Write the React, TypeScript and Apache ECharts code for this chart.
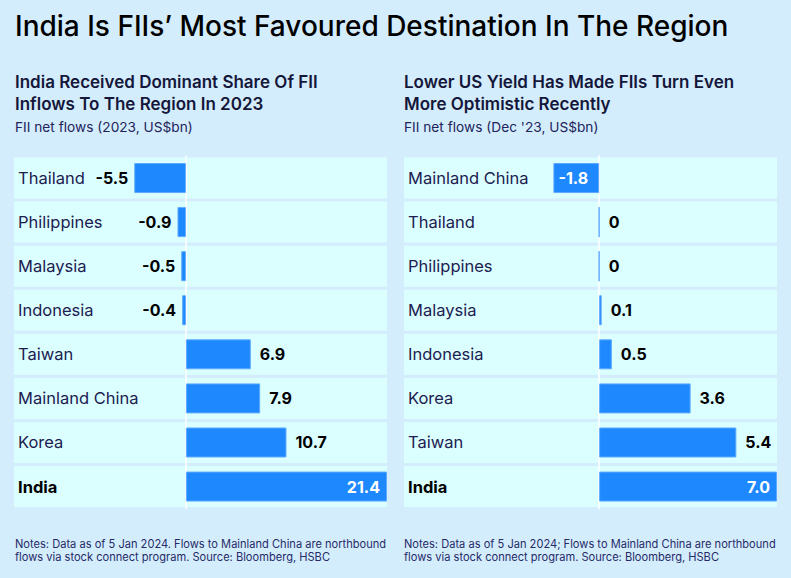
import React, { useEffect, useRef } from "react";
import * as echarts from "echarts";

const leftCategories = ["Thailand", "Philippines", "Malaysia", "Indonesia", "Taiwan", "Mainland China", "Korea", "India"];
const leftValues = [-5.5, -0.9, -0.5, -0.4, 6.9, 7.9, 10.7, 21.4];
const rightCategories = ["Mainland China", "Thailand", "Philippines", "Malaysia", "Indonesia", "Korea", "Taiwan", "India"];
const rightValues = [-1.8, 0, 0, 0.1, 0.5, 3.6, 5.4, 7.0];
const leftRange = [-18.3, 21.4];
const rightRange = [-7.68, 7.0];

const FONT = "Inter, 'Noto Sans', sans-serif";
const BAR = "#1e88ff";
const BAND = "#dbffff";
const BG = "#d4edfd";
const NAVY = "#1d2050";

function fmt(v: number) {
  return v === 0 ? "0" : v.toFixed(1);
}

function barData(cats: string[], vals: number[], insideNegative: boolean) {
  const maxV = Math.max(...vals);
  return vals.map((v, i) => {
    let label: any = { position: v < 0 ? "left" : "right", distance: v < 0 ? 6 : 9 };
    if (v === maxV) label = { position: "insideRight", distance: 7, color: "#ffffff" };
    else if (v < 0 && insideNegative) label = { position: "insideLeft", distance: 5, color: "#ffffff" };
    return { value: v, name: cats[i], label };
  });
}

function bandSeries(xi: number, yi: number, cats: string[]) {
  return {
    type: "custom",
    xAxisIndex: xi,
    yAxisIndex: yi,
    z: 1,
    silent: true,
    data: cats.map((_, i) => [0, i]),
    encode: { x: 0, y: 1 },
    renderItem: (params: any, api: any) => {
      const pt = api.coord([0, api.value(1)]);
      const h = api.size([0, 1])[1] * 0.93;
      const cs = params.coordSys;
      return {
        type: "rect",
        shape: { x: cs.x, y: pt[1] - h / 2, width: cs.width, height: h },
        style: { fill: BAND },
      };
    },
  };
}

function labelAxis(gi: number, cats: string[]) {
  return {
    gridIndex: gi,
    type: "category",
    data: cats,
    inverse: true,
    axisLine: { show: false, onZero: false },
    axisTick: { show: false },
    splitLine: { show: false },
    z: 4,
    axisLabel: {
      inside: true,
      margin: 4,
      formatter: (v: string) => (v === "India" ? "{b|" + v + "}" : "{n|" + v + "}"),
      rich: {
        n: { fontFamily: FONT, fontSize: 16.5, color: NAVY, fontWeight: 400 },
        b: { fontFamily: FONT, fontSize: 16.5, color: "#000000", fontWeight: 700 },
      },
    },
  };
}

function zeroAxis(gi: number, cats: string[]) {
  return {
    gridIndex: gi,
    type: "category",
    data: cats,
    inverse: true,
    z: 2,
    axisLine: { show: true, onZero: true, lineStyle: { color: "#ffffff", width: 1.5 } },
    axisTick: { show: false },
    axisLabel: { show: false },
    splitLine: { show: false },
  };
}

function barSeries(xi: number, yi: number, cats: string[], vals: number[], insideNeg: boolean) {
  return {
    type: "bar",
    xAxisIndex: xi,
    yAxisIndex: yi,
    barWidth: 30,
    z: 3,
    itemStyle: { color: BAR, borderColor: "#5eaaff", borderWidth: 1 },
    label: {
      show: true,
      formatter: (p: any) => fmt(p.value),
      fontFamily: FONT,
      fontSize: 16,
      fontWeight: 700,
      color: "#000000",
    },
    data: barData(cats, vals, insideNeg),
  };
}

export default function App() {
  const ref = useRef<HTMLDivElement>(null);
  useEffect(() => {
    document.body.style.margin = "0";
    const chart = echarts.init(ref.current!, null, { renderer: "svg" });
    const text = (x: number, y: number, t: string, size: number, weight: number, color: string) => ({
      type: "text",
      x,
      y,
      style: { text: t, fontFamily: FONT, fontSize: size, fontWeight: weight, fill: color, textVerticalAlign: "middle" },
    });
    chart.setOption({
      animation: false,
      backgroundColor: BG,
      grid: [
        { left: 14, top: 156, width: 373, height: 352.6 },
        { left: 404, top: 156, width: 373, height: 352.6 },
      ],
      xAxis: [
        { gridIndex: 0, type: "value", min: leftRange[0], max: leftRange[1], show: false },
        { gridIndex: 1, type: "value", min: rightRange[0], max: rightRange[1], show: false },
      ],
      yAxis: [
        labelAxis(0, leftCategories),
        zeroAxis(0, leftCategories),
        labelAxis(1, rightCategories),
        zeroAxis(1, rightCategories),
      ],
      series: [
        bandSeries(0, 0, leftCategories),
        barSeries(0, 0, leftCategories, leftValues, false),
        bandSeries(1, 2, rightCategories),
        barSeries(1, 2, rightCategories, rightValues, true),
      ],
      graphic: [
        text(15, 26, "India Is FIIs’ Most Favoured Destination In The Region", 28, 500, "#000000"),
        text(15, 82, "India Received Dominant Share Of FII", 17, 600, "#15173a"),
        text(15, 104, "Inflows To The Region In 2023", 17, 600, "#15173a"),
        text(15, 127, "FII net flows (2023, US$bn)", 13.7, 400, "#22245a"),
        text(404, 82, "Lower US Yield Has Made FIIs Turn Even", 17, 600, "#15173a"),
        text(404, 104, "More Optimistic Recently", 17, 600, "#15173a"),
        text(404, 127, "FII net flows (Dec '23, US$bn)", 13.7, 400, "#22245a"),
        text(15, 544, "Notes: Data as of 5 Jan 2024. Flows to Mainland China are northbound", 11.1, 400, "#262b68"),
        text(15, 557, "flows via stock connect program. Source: Bloomberg, HSBC", 11.1, 400, "#262b68"),
        text(404, 544, "Notes: Data as of 5 Jan 2024; Flows to Mainland China are northbound", 11.1, 400, "#262b68"),
        text(404, 557, "flows via stock connect program. Source: Bloomberg, HSBC", 11.1, 400, "#262b68"),
      ],
    });
    return () => chart.dispose();
  }, []);
  return <div ref={ref} style={{ position: "absolute", left: 0, top: 0, width: 791, height: 578 }} />;
}
